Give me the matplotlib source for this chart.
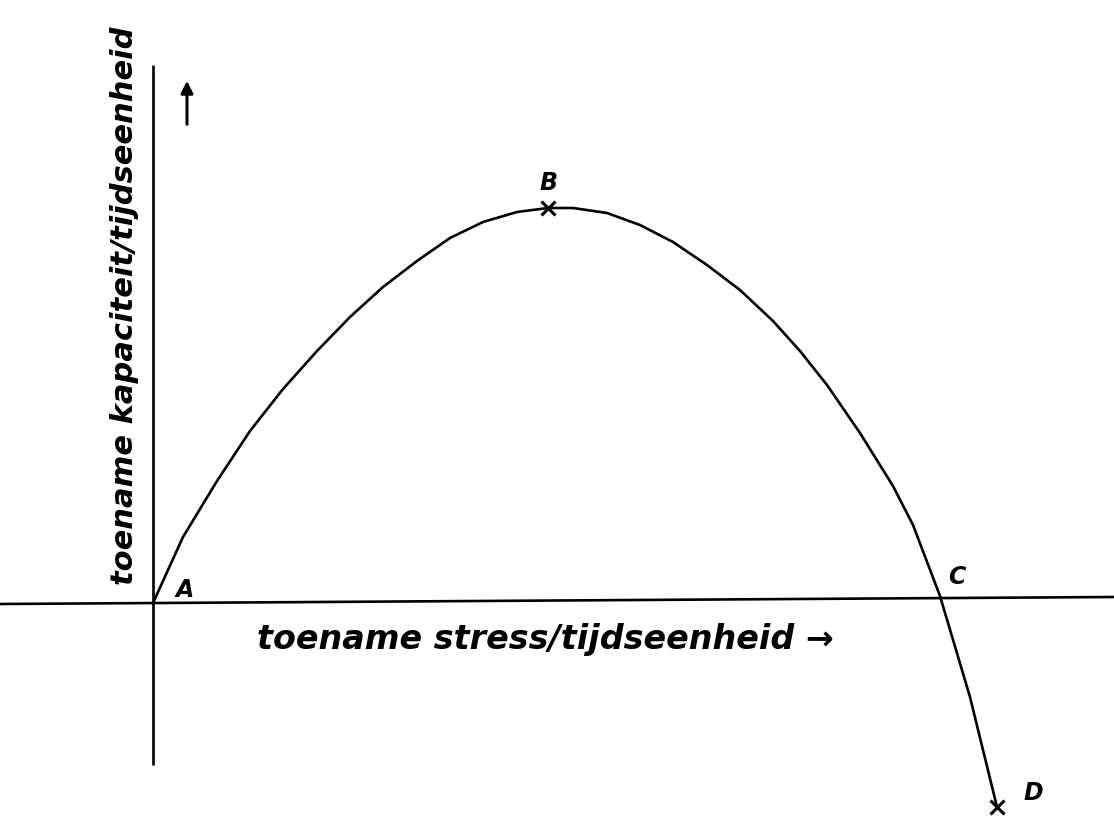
import numpy as np
import matplotlib
matplotlib.use("Agg")
import matplotlib.pyplot as plt

# Curve (hand-drawn); x = stress increase, y = capacity increase
curve_x = [0, 20, 30, 64, 97, 130, 164, 197, 230, 264, 297, 330, 364, 395,
           420, 454, 487, 520, 554, 587, 620, 647, 674, 707, 740, 760, 787,
           817, 844]
curve_y = [0, 44, 66, 122, 172, 214, 252, 286, 316, 342, 365, 381, 391, 395,
           395, 390, 378, 361, 338, 313, 282, 252, 218, 170, 117, 78, 7,
           -94, -204]

# Named points
point_names = ["A", "B", "C", "D"]
point_label_x = [32, 395, 804, 880]
point_label_y = [13, 420, 26, -190]
marked_x = [395, 844]
marked_y = [395, -204]

# Axes lines
xaxis_x = [-153, 961]
xaxis_y = [-1, 6]
yaxis_x = [0, 0]
yaxis_y = [-162, 538]

x_label = "toename stress/tijdseenheid \u2192"
y_label = "toename kapaciteit/tijdseenheid"

fig = plt.figure(figsize=(11.14, 8.17), dpi=100)
ax = fig.add_axes([0, 0, 1, 1])
ax.set_xlim(-153, 961)
ax.set_ylim(-214, 603)
ax.axis("off")

ax.plot(xaxis_x, xaxis_y, color="black", lw=1.9, solid_capstyle="butt")
ax.plot(yaxis_x, yaxis_y, color="black", lw=1.9, solid_capstyle="butt")
ax.plot(curve_x, curve_y, color="black", lw=1.9, solid_joinstyle="round")
ax.plot(marked_x, marked_y, "x", color="black", ms=10, mew=2.2)

for n, lx, ly in zip(point_names, point_label_x, point_label_y):
    ax.text(lx, ly, n, fontsize=17, fontweight="bold", style="italic",
            ha="center", va="center", family="DejaVu Sans")

# upward arrow next to the y axis
ax.annotate("", xy=(34, 525), xytext=(34, 476),
            arrowprops=dict(arrowstyle="-|>", color="black", lw=2.2,
                            mutation_scale=18))

ax.text(392, -37, x_label, fontsize=24, fontweight="bold", style="italic",
        ha="center", va="center", family="DejaVu Sans")
ax.text(-28, 18, y_label, fontsize=22, fontweight="bold", style="italic",
        rotation=90, ha="center", va="bottom", family="DejaVu Sans")

fig.savefig("out.png", dpi=100)
